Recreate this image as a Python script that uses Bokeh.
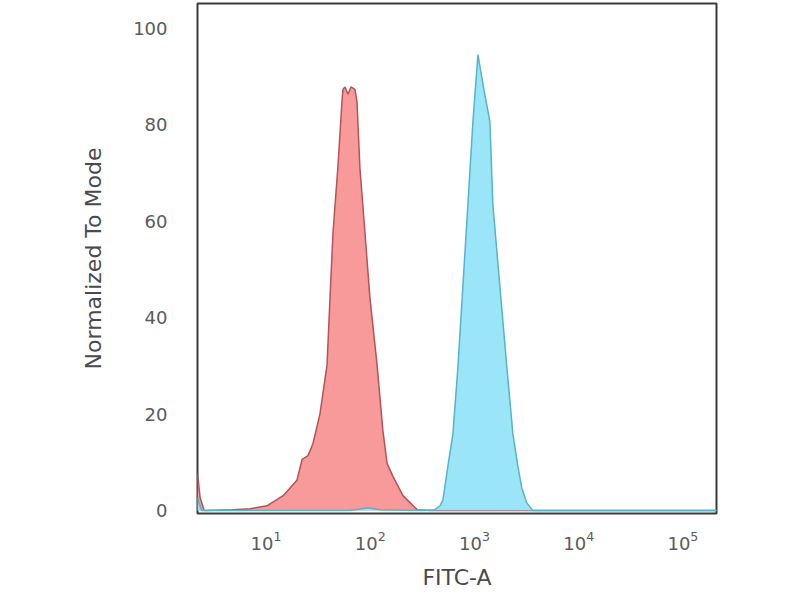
from bokeh.embed import file_html
from bokeh.resources import INLINE
from bokeh.models import FixedTicker, Range1d
from bokeh.plotting import figure

# ─── data ───────────────────────────────────────────────────────────────────
# isotype control (red), FITC-A intensity vs. % of mode
red_x = [2.2, 2.33, 2.55, 4.83, 7.03, 10.2, 14.6, 19.8, 22.2, 25.3, 28.2,
         32.9, 38.5, 41.1, 43.9, 49.0, 53.5, 54.7, 57.2, 61.1, 65.3, 71.3,
         74.6, 79.6, 89.0, 99.3, 116, 132, 145, 165, 206, 281, 373, 230000]
red_y = [7.8, 2.7, 0.0, 0.2, 0.4, 1.0, 3.1, 6.3, 10.6, 11.4, 13.9,
         20.0, 30.2, 44.1, 57.6, 71.4, 84.7, 87.3, 87.8, 86.3, 87.8, 87.3,
         84.7, 71.0, 57.6, 44.1, 30.4, 16.7, 9.8, 7.1, 3.1, 0.2, 0.0, 0.0]

# stained sample (blue)
blue_x = [2.2, 2.4, 60, 71.3, 95, 124, 320, 417, 466, 498, 556, 621, 693,
          774, 865, 966, 1079, 1231, 1406, 1500, 1753, 2047, 2336, 2607,
          2846, 3177, 3630, 230000]
blue_y = [2.7, 0.0, 0.0, 0.2, 0.6, 0.2, 0.0, 0.2, 1.0, 2.2, 9.2, 15.9, 29.6,
          46.5, 63.5, 80.6, 94.5, 87.3, 80.6, 63.5, 46.5, 29.6, 15.9, 9.2,
          4.7, 1.6, 0.0, 0.0]

x_ticks = [10, 100, 1000, 10000, 100000]
y_ticks = [0, 20, 40, 60, 80, 100]

FONT = "DejaVu Sans"

p = figure(
    width=792, height=592,
    x_axis_type="log",
    x_range=Range1d(2.2, 210000), y_range=Range1d(-0.6, 105.1),
    output_backend="svg", toolbar_location=None,
    min_border_left=197, min_border_right=76,
    min_border_top=3, min_border_bottom=71,
)
p.grid.grid_line_color = None
p.outline_line_color = "#3a3a3a"
p.outline_line_width = 2
p.background_fill_color = "white"
p.border_fill_color = "white"

# ─── histograms ─────────────────────────────────────────────────────────────
p.varea(x=red_x, y1=0, y2=red_y, fill_color="#f99a9a", fill_alpha=1.0)
p.line(red_x, red_y, line_color="#b5525a", line_width=1.5)
p.varea(x=blue_x, y1=0, y2=blue_y, fill_color="#8fe2f7", fill_alpha=0.9)
p.line(blue_x, blue_y, line_color="#55b3ca", line_width=1.5)

# ─── axes ───────────────────────────────────────────────────────────────────
for ax in (p.xaxis[0], p.yaxis[0]):
    ax.axis_line_color = None
    ax.major_tick_line_color = None
    ax.minor_tick_line_color = None
    ax.major_label_text_font = FONT
    ax.major_label_text_color = "#5a5a5a"
    ax.major_label_text_font_size = "18px"
    ax.axis_label_text_font = FONT
    ax.axis_label_text_font_style = "normal"
    ax.axis_label_text_color = "#4a4a4a"
    ax.axis_label_text_font_size = "22px"

p.xaxis.ticker = FixedTicker(ticks=x_ticks)
p.xaxis.major_label_standoff = 11
p.xaxis.axis_label = "FITC-A"
p.xaxis.axis_label_standoff = 12

p.yaxis.ticker = FixedTicker(ticks=y_ticks)
p.yaxis.major_label_standoff = 24
p.yaxis.axis_label = "Normalized To Mode"
p.yaxis.axis_label_standoff = 24

open("out.html", "w").write(file_html(p, INLINE))
